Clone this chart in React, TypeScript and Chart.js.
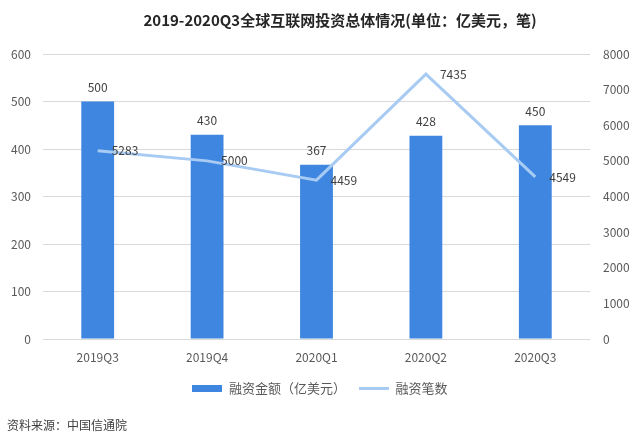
import React, { useEffect, useRef } from "react";
import { Chart, registerables } from "chart.js";

Chart.register(...registerables);

const categories = ["2019Q3", "2019Q4", "2020Q1", "2020Q2", "2020Q3"];
const amountValues = [500, 430, 367, 428, 450];
const countValues = [5283, 5000, 4459, 7435, 4549];
const titleText = "2019-2020Q3全球互联网投资总体情况(单位：亿美元，笔)";
const sourceText = "资料来源：中国信通院";
const amountLabel = "融资金额（亿美元）";
const countLabel = "融资笔数";

const FONT = '"Noto Sans CJK SC", "Noto Sans", sans-serif';
const BAR_COLOR = "#3f86e0";
const LINE_COLOR = "#a8cbf4";
const TEXT_COLOR = "#595959";

function makeSwatch(w: number, h: number, color: string) {
  const c = document.createElement("canvas");
  c.width = w;
  c.height = h;
  const cx = c.getContext("2d");
  if (cx) {
    cx.fillStyle = color;
    cx.fillRect(0, 0, w, h);
  }
  return c;
}

const textPlugin = {
  id: "textPlugin",
  afterDraw(chart: any) {
    const ctx = chart.ctx;
    ctx.save();
    ctx.fillStyle = "#262626";
    ctx.font = `bold 15px ${FONT}`;
    ctx.textAlign = "center";
    ctx.textBaseline = "middle";
    ctx.fillText(titleText, 340, 20);
    ctx.fillStyle = "#404040";
    ctx.font = `12px ${FONT}`;
    ctx.textAlign = "left";
    ctx.fillText(sourceText, 7, 425);
    ctx.restore();
  },
  afterDatasetsDraw(chart: any) {
    const ctx = chart.ctx;
    ctx.save();
    ctx.font = `12px ${FONT}`;
    ctx.fillStyle = "#404040";
    ctx.textBaseline = "middle";
    const barMeta = chart.getDatasetMeta(0);
    ctx.textAlign = "center";
    barMeta.data.forEach((el: any, i: number) => {
      ctx.fillText(String(amountValues[i]), el.x, el.y - 14);
    });
    const lineMeta = chart.getDatasetMeta(1);
    ctx.textAlign = "left";
    lineMeta.data.forEach((el: any, i: number) => {
      ctx.fillText(String(countValues[i]), el.x + 14, el.y);
    });
    ctx.restore();
  },
};

export default function App() {
  const ref = useRef<HTMLCanvasElement>(null);
  useEffect(() => {
    if (!ref.current) return;
    const barSwatch = makeSwatch(30, 7, BAR_COLOR);
    const lineSwatch = makeSwatch(30, 3, LINE_COLOR);
    const chart = new Chart(ref.current, {
      type: "bar",
      data: {
        labels: categories,
        datasets: [
          {
            type: "bar",
            label: amountLabel,
            data: amountValues,
            backgroundColor: BAR_COLOR,
            borderWidth: 0,
            barPercentage: 0.6,
            categoryPercentage: 0.5,
            yAxisID: "y",
            order: 1,
          } as any,
          {
            type: "line",
            label: countLabel,
            data: countValues,
            borderColor: LINE_COLOR,
            backgroundColor: LINE_COLOR,
            borderWidth: 3,
            pointRadius: 0,
            tension: 0,
            yAxisID: "y1",
            order: 0,
          } as any,
        ],
      },
      options: {
        responsive: false,
        animation: false,
        layout: { padding: { top: 54, left: 0, right: 0, bottom: 38 } },
        plugins: {
          title: { display: false },
          tooltip: { enabled: false },
          legend: {
            position: "bottom",
            labels: {
              usePointStyle: true,
              pointStyleWidth: 30,
              boxHeight: 7,
              padding: 13,
              color: TEXT_COLOR,
              font: { family: FONT, size: 13 },
              generateLabels: (ch: any) =>
                ch.data.datasets.map((d: any, i: number) => ({
                  text: d.label,
                  fillStyle: d.type === "line" ? LINE_COLOR : BAR_COLOR,
                  strokeStyle: d.type === "line" ? LINE_COLOR : BAR_COLOR,
                  lineWidth: 0,
                  pointStyle: d.type === "line" ? lineSwatch : barSwatch,
                  hidden: false,
                  datasetIndex: i,
                  fontColor: TEXT_COLOR,
                })),
            },
          },
        },
        scales: {
          x: {
            grid: { display: false, drawTicks: false },
            border: { display: false },
            ticks: { color: TEXT_COLOR, font: { family: FONT, size: 12 }, padding: 11 },
            afterFit: (s: any) => {
              s.height = 30;
            },
          },
          y: {
            position: "left",
            min: 0,
            max: 600,
            ticks: { stepSize: 100, color: TEXT_COLOR, font: { family: FONT, size: 12 }, padding: 12 },
            grid: { color: "#d9d9d9", drawTicks: false },
            border: { display: false },
            afterFit: (s: any) => {
              s.width = 43;
            },
          },
          y1: {
            position: "right",
            min: 0,
            max: 8000,
            ticks: {
              stepSize: 1000,
              color: TEXT_COLOR,
              font: { family: FONT, size: 12 },
              padding: 13,
              callback: (v: any) => String(v),
            },
            grid: { display: false, drawTicks: false },
            border: { display: false },
            afterFit: (s: any) => {
              s.width = 50;
            },
          },
        },
      } as any,
      plugins: [textPlugin],
    });
    return () => chart.destroy();
  }, []);
  return (
    <div style={{ position: "absolute", left: 0, top: 0, width: 640, height: 443, background: "#fff" }}>
      <canvas ref={ref} width={640} height={443} />
    </div>
  );
}
